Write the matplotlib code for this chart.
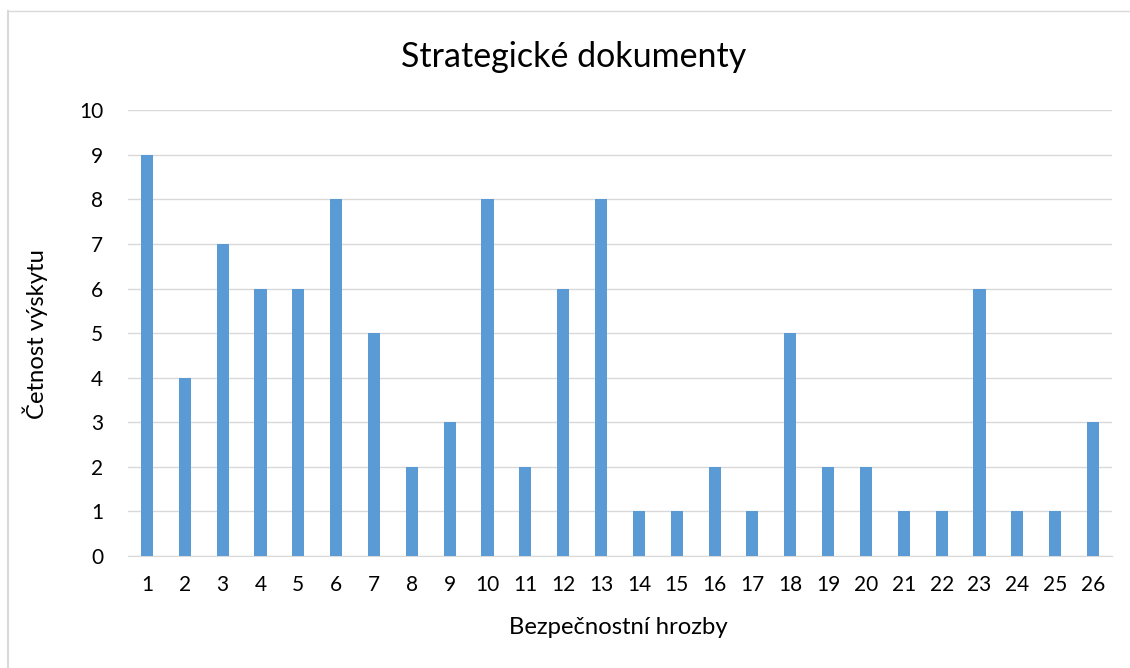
import matplotlib.pyplot as plt
from matplotlib.lines import Line2D

plt.rcParams['font.family'] = ['Lato', 'DejaVu Sans']

# data
threats = list(range(1, 27))
counts = [9, 4, 7, 6, 6, 8, 5, 2, 3, 8, 2, 6, 8, 1, 1, 2, 1, 5, 2, 2, 1, 1, 6, 1, 1, 3]
y_ticks = list(range(0, 11))

W, H = 1130, 668
fig = plt.figure(figsize=(W / 100, H / 100), dpi=100)
ax = fig.add_axes([0.1133, 0.1677, 0.8707, 0.6673])

ax.bar(threats, counts, width=0.32, color='#5B9BD5', zorder=3)

ax.set_xlim(0.5, 26.5)
ax.set_ylim(0, 10)
ax.set_yticks(y_ticks)
ax.set_xticks(threats)
ax.tick_params(axis='both', length=0, labelsize=15, colors='#000000')
ax.tick_params(axis='x', pad=14)
ax.tick_params(axis='y', pad=18)
ax.grid(axis='y', color='#D9D9D9', linewidth=1, zorder=0)
for s in ['top', 'right', 'left']:
    ax.spines[s].set_visible(False)
ax.spines['bottom'].set_color('#D9D9D9')

fig.text(0.508, 0.915, 'Strategické dokumenty', fontsize=24.5, ha='center', va='center')
fig.text(0.547, 0.061, 'Bezpečnostní hrozby', fontsize=17.2, ha='center', va='center')
fig.text(0.031, 0.5, 'Četnost výskytu', fontsize=17.2, ha='center', va='center', rotation=90)

# chart border (only left and top visible in the reference)
fig.add_artist(Line2D([7.5 / W, 7.5 / W], [0, 1 - 11 / H], transform=fig.transFigure,
                      color='#D9D9D9', linewidth=1.5))
fig.add_artist(Line2D([7.5 / W, 1], [1 - 11 / H, 1 - 11 / H], transform=fig.transFigure,
                      color='#D9D9D9', linewidth=1))

fig.savefig('out.png', dpi=100, facecolor='white')
